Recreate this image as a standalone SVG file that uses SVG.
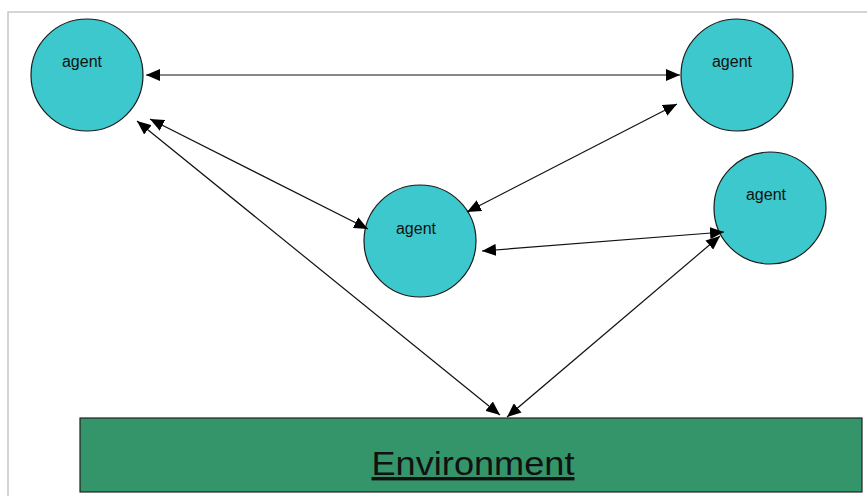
<svg xmlns="http://www.w3.org/2000/svg" width="867" height="496" viewBox="0 0 867 496">
<style>
.agent{fill:#3cc8cc;stroke:#1a1a1a;stroke-width:1.2}
.lbl{font-family:"Liberation Sans",Arial,sans-serif;font-size:16px;fill:#111;text-anchor:middle}
.con{stroke:#111;stroke-width:1.2;fill:none;marker-start:url(#ah);marker-end:url(#ah)}
</style>
<defs>
<marker id="ah" viewBox="0 0 14 12" refX="14" refY="6" markerWidth="14" markerHeight="12" markerUnits="userSpaceOnUse" orient="auto-start-reverse">
<path d="M0,0 L14,6 L0,12 Z" fill="#000"/>
</marker>
</defs>
<rect width="867" height="496" fill="#fff"/>
<path d="M8,496 V12 H867" fill="none" stroke="#c8c8c8" stroke-width="1.5"/>
<g id="environment">
<rect x="80" y="418" width="782" height="74" fill="#35956a" stroke="#222" stroke-width="1.2"/>
<text x="473" y="475" font-family="Liberation Sans,Arial,sans-serif" font-size="34" fill="#111" text-anchor="middle" textLength="203" lengthAdjust="spacingAndGlyphs" text-decoration="underline">Environment</text>
</g>
<g id="agent-tl">
<circle class="agent" cx="87" cy="75" r="56"/>
<text class="lbl" x="82" y="67">agent</text>
</g>
<g id="agent-tr">
<circle class="agent" cx="737" cy="75" r="56"/>
<text class="lbl" x="732" y="67">agent</text>
</g>
<g id="agent-mid">
<circle class="agent" cx="420" cy="241" r="56"/>
<text class="lbl" x="416" y="234">agent</text>
</g>
<g id="agent-r">
<circle class="agent" cx="770" cy="208" r="56"/>
<text class="lbl" x="766" y="200">agent</text>
</g>
<g id="connectors">
<line class="con" x1="146" y1="75" x2="680" y2="75"/>
<line class="con" x1="150" y1="119" x2="368" y2="229"/>
<line class="con" x1="137" y1="121" x2="500" y2="415"/>
<line class="con" x1="677" y1="104" x2="467" y2="212"/>
<line class="con" x1="482" y1="251" x2="724" y2="232"/>
<line class="con" x1="720" y1="236" x2="507" y2="417"/>
</g>
</svg>
